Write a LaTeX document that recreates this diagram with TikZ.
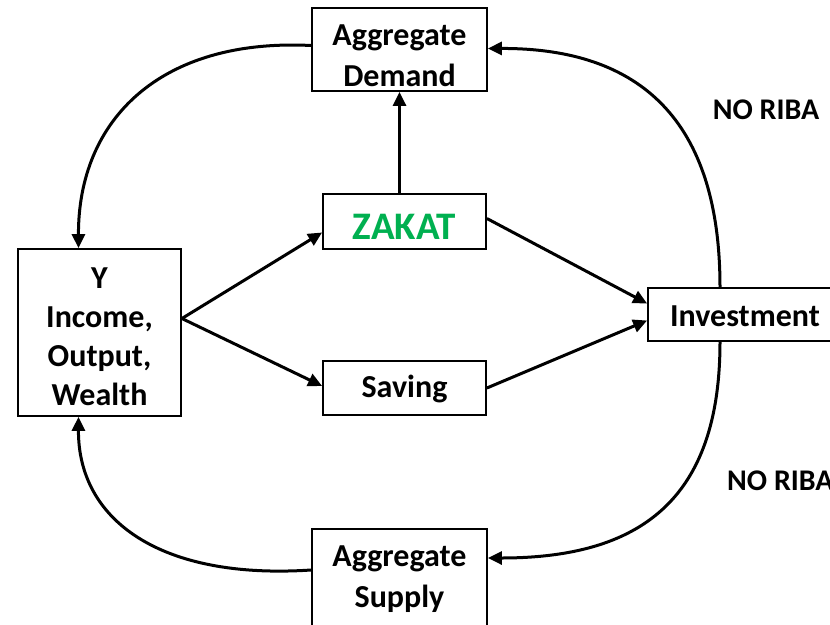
\documentclass[tikz,border=0pt]{standalone}
\usepackage{fontspec}
\setmainfont{Carlito}
\usetikzlibrary{arrows.meta}
\definecolor{zgreen}{RGB}{0,176,80}
\tikzset{
  box/.style={draw, line width=1.8pt, fill=white, inner sep=0pt},
  txt/.style={align=center, inner sep=0pt, font=\fontsize{32}{41}\selectfont\bfseries},
  conn/.style={line width=3pt, -{Triangle[length=14pt,width=13pt]}},
  lbl/.style={font=\fontsize{30}{34}\selectfont\bfseries, inner sep=0pt}
}
\begin{document}
\begin{tikzpicture}[x=1pt,y=-1pt]
\useasboundingbox (0,0) rectangle (830,624);
% boxes
\node[box, minimum width=175pt, minimum height=83pt] (AD) at (399.5,49.5) {};
\node[box, minimum width=175pt, minimum height=100pt] (AS) at (399.5,579) {};
\node[box, minimum width=163pt, minimum height=167pt] (Y) at (99.5,332.5) {};
\node[box, minimum width=163pt, minimum height=55pt] (Z) at (404.5,221.5) {};
\node[box, minimum width=163pt, minimum height=54pt] (S) at (404.5,388) {};
\node[box, minimum width=194pt, minimum height=53pt] (I) at (745,314.5) {};
% texts
\node[txt] (ADt) at ([yshift=-6pt]AD.center) {Aggregate\\Demand};
\node[txt] (ASt) at (399.5,579) {Aggregate\\Supply};
\node[txt, font=\fontsize{32}{39}\selectfont\bfseries] (Yt) at ([yshift=-4pt]Y.center) {Y\\Income,\\Output,\\Wealth};
\node[txt, text=zgreen, font=\fontsize{39}{44}\selectfont\bfseries] (Zt) at ([yshift=-5pt]Z.center) {ZAKAT};
\node[txt] (St) at ([yshift=-1pt]S.center) {Saving};
\node[txt] (It) at ([yshift=-2pt]I.center) {Investment};
\node[lbl] (nr1) at (766,110) {NO RIBA};
\node[lbl, anchor=west] (nr2) at (727,481) {NO RIBA};
% straight arrows
\draw[conn] ([yshift=14pt]Y.east) -- ([yshift=-11pt]Z.west);
\draw[conn] ([yshift=14pt]Y.east) -- ([yshift=2pt]S.west);
\draw[conn] (Z.north -| AD.south) -- (AD.south);
\draw[conn] ([yshift=3pt]Z.east) -- ([yshift=11pt]I.west);
\draw[conn] (S.east) -- ([yshift=-6pt]I.west);
% curved arrows
\draw[conn] ([yshift=4pt]AD.west) .. controls (160,38) and (78,120) .. ([xshift=-21pt]Y.north);
\draw[conn] ([xshift=-25pt]I.north) .. controls (720,120) and (640,48) .. ([yshift=1pt]AD.east);
\draw[conn] ([xshift=-25pt]I.south) .. controls (720,500) and (640,558) .. ([yshift=21pt]AS.east);
\draw[conn] ([yshift=9pt]AS.west) .. controls (160,580) and (78,520) .. ([xshift=-21pt]Y.south);
\end{tikzpicture}
\end{document}
